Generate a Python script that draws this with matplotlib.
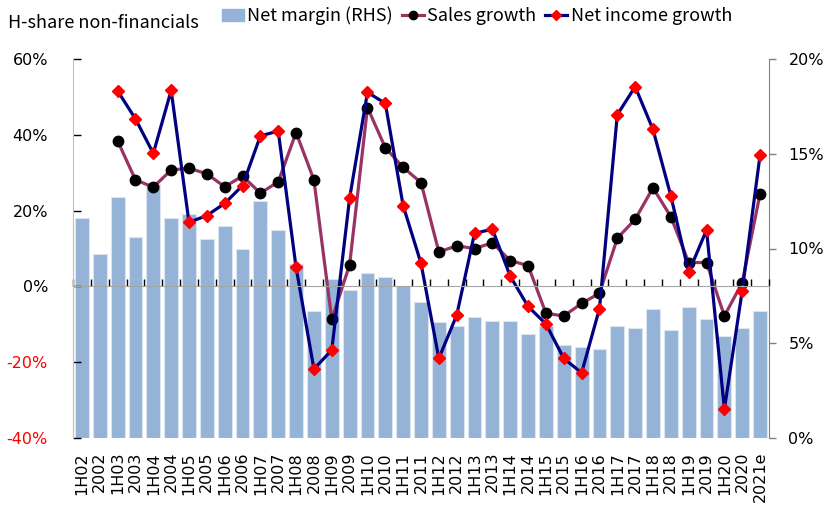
import numpy as np
import matplotlib
matplotlib.use("Agg")
import matplotlib.pyplot as plt
from matplotlib.lines import Line2D
from matplotlib.patches import Patch

categories = ['1H02', '2002', '1H03', '2003', '1H04', '2004', '1H05', '2005',
              '1H06', '2006', '1H07', '2007', '1H08', '2008', '1H09', '2009',
              '1H10', '2010', '1H11', '2011', '1H12', '2012', '1H13', '2013',
              '1H14', '2014', '1H15', '2015', '1H16', '2016', '1H17', '2017',
              '1H18', '2018', '1H19', '2019', '1H20', '2020', '2021e']

# net margin, % (right axis)
net_margin = [11.6, 9.7, 12.7, 10.6, 13.4, 11.6, 11.8, 10.5, 11.2, 10.0,
              12.5, 11.0, 9.2, 6.7, 8.4, 7.8, 8.7, 8.5, 8.0, 7.2,
              6.1, 5.9, 6.4, 6.2, 6.2, 5.5, 5.9, 4.9, 4.8, 4.7,
              5.9, 5.8, 6.8, 5.7, 6.9, 6.3, 5.4, 5.8, 6.7]

# sales growth, % (left axis)
sales_growth = [np.nan, np.nan, 38.4, 28.1, 26.2, 30.7, 31.2, 29.7, 26.3, 29.1,
                24.6, 27.6, 40.6, 28.1, -8.7, 5.7, 47.2, 36.6, 31.4, 27.4,
                9.1, 10.7, 10.0, 11.5, 6.8, 5.5, -7.1, -7.8, -4.5, -1.8,
                12.7, 17.7, 26.0, 18.4, 6.3, 6.3, -7.8, 1.0, 24.5]

# net income growth, % (left axis)
income_growth = [np.nan, np.nan, 51.6, 44.2, 35.1, 51.7, 16.9, 18.7, 21.9, 26.6,
                 39.7, 41.0, 5.0, -21.8, -16.8, 23.3, 51.2, 48.3, 21.3, 6.1,
                 -19.0, -7.6, 14.0, 15.1, 2.7, -5.3, -9.9, -19.0, -22.8, -5.9,
                 45.3, 52.7, 41.4, 23.9, 3.7, 14.9, -32.4, -1.1, 34.7]

left_ticks = [-40, -20, 0, 20, 40, 60]
right_ticks = [0, 5, 10, 15, 20]

bar_col = '#95B3D7'
sales_col = '#993366'
income_col = '#000080'
cjk = 'Noto Sans CJK SC'

fig = plt.figure(figsize=(8.37, 5.17), dpi=100)
ax = fig.add_axes([73/837, 1-438/517, 696/837, 379/517])
ax2 = ax.twinx()
ax.set_zorder(2)
ax.patch.set_visible(False)

x = np.arange(len(categories))
ax2.bar(x, net_margin, width=0.78, color=bar_col, edgecolor='#DCE6F2', linewidth=0.8)
ax2.set_ylim(0, 20)

ax.plot(x, sales_growth, color=sales_col, lw=2.3, marker='o', ms=7.5,
        mfc='black', mec='black')
ax.plot(x, income_growth, color=income_col, lw=2.3, marker='D', ms=6.5,
        mfc='red', mec='red')
ax.set_ylim(-40, 60)
ax.set_xlim(-0.5, len(categories) - 0.5)

# x ticks: labels at bottom (ax2), boundary ticks on zero line (ax)
ax.set_xticks(x)
ax.set_xticklabels(categories)
ax.set_xticks(np.arange(-0.5, len(categories), 1), minor=True)
ax.spines['bottom'].set_position(('data', 0))
ax.spines['bottom'].set_color('#A6A6A6')
ax.tick_params(axis='x', which='major', length=0, labelbottom=False)
ax.tick_params(axis='x', which='minor', direction='in', length=5, width=1, color='black')

ax2.xaxis.set_visible(True)
ax2.tick_params(axis='x', which='both', length=0, labelbottom=True,
                labelrotation=90, pad=10, labelsize=11.5)

# left axis
ax.set_yticks(left_ticks)
ax.set_yticklabels(['%d%%' % v for v in left_ticks])
for lab, v in zip(ax.get_yticklabels(), left_ticks):
    lab.set_color('red' if v < 0 else 'black')
ax.tick_params(axis='y', direction='in', length=5.8, width=1, color='black',
               pad=18, labelsize=11.5)
ax.spines['left'].set_color('#BFBFBF')
ax.spines['top'].set_visible(False)
ax.spines['right'].set_visible(False)

# right axis
ax2.set_yticks(right_ticks)
ax2.set_yticklabels(['%d%%' % v for v in right_ticks])
ax2.tick_params(axis='y', direction='out', length=5, width=1, color='#808080',
                pad=9, labelsize=11.5)
for s in ['top', 'bottom', 'left']:
    ax2.spines[s].set_visible(False)
ax2.spines['right'].set_color('#808080')

fig.text(8/837, 1-23/517, 'H-share non-financials', va='center', fontsize=13, family=cjk)

handles = [Patch(facecolor=bar_col, edgecolor=bar_col),
           Line2D([], [], color=sales_col, lw=2.3, marker='o', ms=6, mfc='black', mec='black'),
           Line2D([], [], color=income_col, lw=2.3, marker='D', ms=5, mfc='red', mec='red')]
labels = ['Net margin (RHS)', 'Sales growth', 'Net income growth']
fig.legend(handles, labels, loc='center left', bbox_to_anchor=(222/837, 1-16/517),
           ncol=3, frameon=False, prop={'family': cjk, 'size': 13},
           handlelength=1.2, handletextpad=0.2, columnspacing=0.5,
           borderpad=0, borderaxespad=0)

fig.savefig('out.png', dpi=100)
